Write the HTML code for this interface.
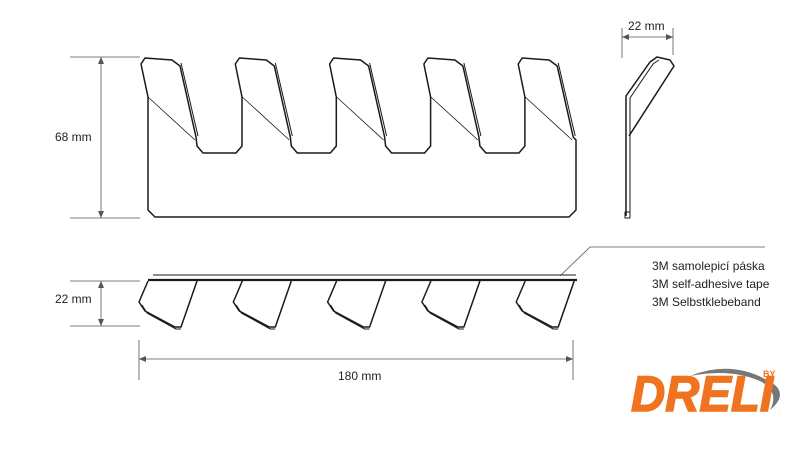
<!DOCTYPE html>
<html><head><meta charset="utf-8"><style>
html,body{margin:0;padding:0;background:#fff;width:797px;height:457px;overflow:hidden}
svg{display:block}
text{font-family:"Liberation Sans",sans-serif;fill:#222}
</style></head><body>
<svg id="s" width="797" height="457" viewBox="0 0 797 457" xmlns="http://www.w3.org/2000/svg">
<g fill="none" stroke="#1a1a1a" stroke-width="1.5" stroke-linejoin="round">
<path id="top"/>
<g id="extra"></g>
<path d="M626,216 L626,96 L650,62 L657,57 L670,60 L674,66 L629,136" />
<path d="M630,216 L630,98 L653,64 L659,60" stroke-width="1"/>
<rect x="625" y="212" width="5" height="6" stroke-width="1"/>
<line x1="153" y1="275" x2="576" y2="275" stroke-width="1"/>
<line x1="148" y1="280" x2="577" y2="280" stroke-width="2.2"/>
</g>
<g stroke="#555" stroke-width="0.8" fill="none">
<line x1="70" y1="57" x2="140" y2="57"/><line x1="70" y1="218" x2="140" y2="218"/>
<line x1="101" y1="57" x2="101" y2="218"/>
<line x1="70" y1="281" x2="140" y2="281"/><line x1="70" y1="326" x2="140" y2="326"/>
<line x1="101" y1="281" x2="101" y2="326"/>
<line x1="139" y1="340" x2="139" y2="380"/><line x1="573" y1="340" x2="573" y2="380"/>
<line x1="139" y1="359" x2="573" y2="359"/>
<line x1="622" y1="28" x2="622" y2="58"/><line x1="673" y1="28" x2="673" y2="55"/>
<line x1="622" y1="37" x2="673" y2="37"/>
<polyline points="560,276 590,247 765,247"/>
</g>
<g fill="#555">
<path d="M101,57 l-3,7 h6z"/><path d="M101,218 l-3,-7 h6z"/>
<path d="M101,281 l-3,7 h6z"/><path d="M101,326 l-3,-7 h6z"/>
<path d="M139,359 l7,-3 v6z"/><path d="M573,359 l-7,-3 v6z"/>
<path d="M622,37 l7,-3 v6z"/><path d="M673,37 l-7,-3 v6z"/>
</g>
<text x="55" y="141" font-size="12">68 mm</text>
<text x="55" y="303" font-size="12">22 mm</text>
<text x="338" y="380" font-size="12">180 mm</text>
<text x="628" y="30" font-size="12">22 mm</text>
<text x="652" y="270" font-size="12">3M samolepicí páska</text>
<text x="652" y="288" font-size="12">3M self-adhesive tape</text>
<text x="652" y="306" font-size="12">3M Selbstklebeband</text>
<path d="M690,376 Q735,358 775,385 Q787,396 770,410 Q780,392 760,381 Q730,368 690,376z" fill="#777"/>
<text x="631" y="411" font-size="50" font-weight="bold" font-style="italic" style="fill:#f07320;stroke:#f07320;stroke-width:1.5" textLength="142" lengthAdjust="spacingAndGlyphs">DRELI</text>
<text x="763" y="377" font-size="9" font-weight="bold" style="fill:#f07320">BY</text>
</svg>
<script>
var p="",ex="",P=94.3;
for(var k=0;k<5;k++){var o=k*P;
 if(k==0)p+="M155,217 L148,210 L148,97 ";
 p+="L"+(141+o)+",64 L"+(145+o)+",58 L"+(172+o)+",60 L"+(180+o)+",66 L"+(196+o)+",137 ";
 if(k<4){p+="L"+(197+o)+",146 L"+(203+o)+",153 L"+(236+o)+",153 L"+(242+o)+",146 L"+(242+o)+",97 ";}
 else{p+="L"+(576)+",140 L576,210 L569,217 Z";}
 ex+='<path d="M'+(181+o)+',63 L'+(198+o)+',136" stroke-width="1"/>';
 ex+='<line x1="'+(148+o)+'" y1="97" x2="'+(195+o)+'" y2="140" stroke-width="0.8"/>';
 ex+='<path d="M'+(148+o)+',281 L'+(139+o)+',302 L'+(145+o)+',311 L'+(175+o)+',327 L'+(181+o)+',327 L'+(197+o)+',281"/>';
 ex+='<path d="M'+(142+o)+',305 L'+(147+o)+',313 L'+(176+o)+',329 L'+(181+o)+',329" stroke-width="1"/>';
}
document.getElementById("top").setAttribute("d",p);
document.getElementById("extra").innerHTML=ex;
</script>
</body></html>
